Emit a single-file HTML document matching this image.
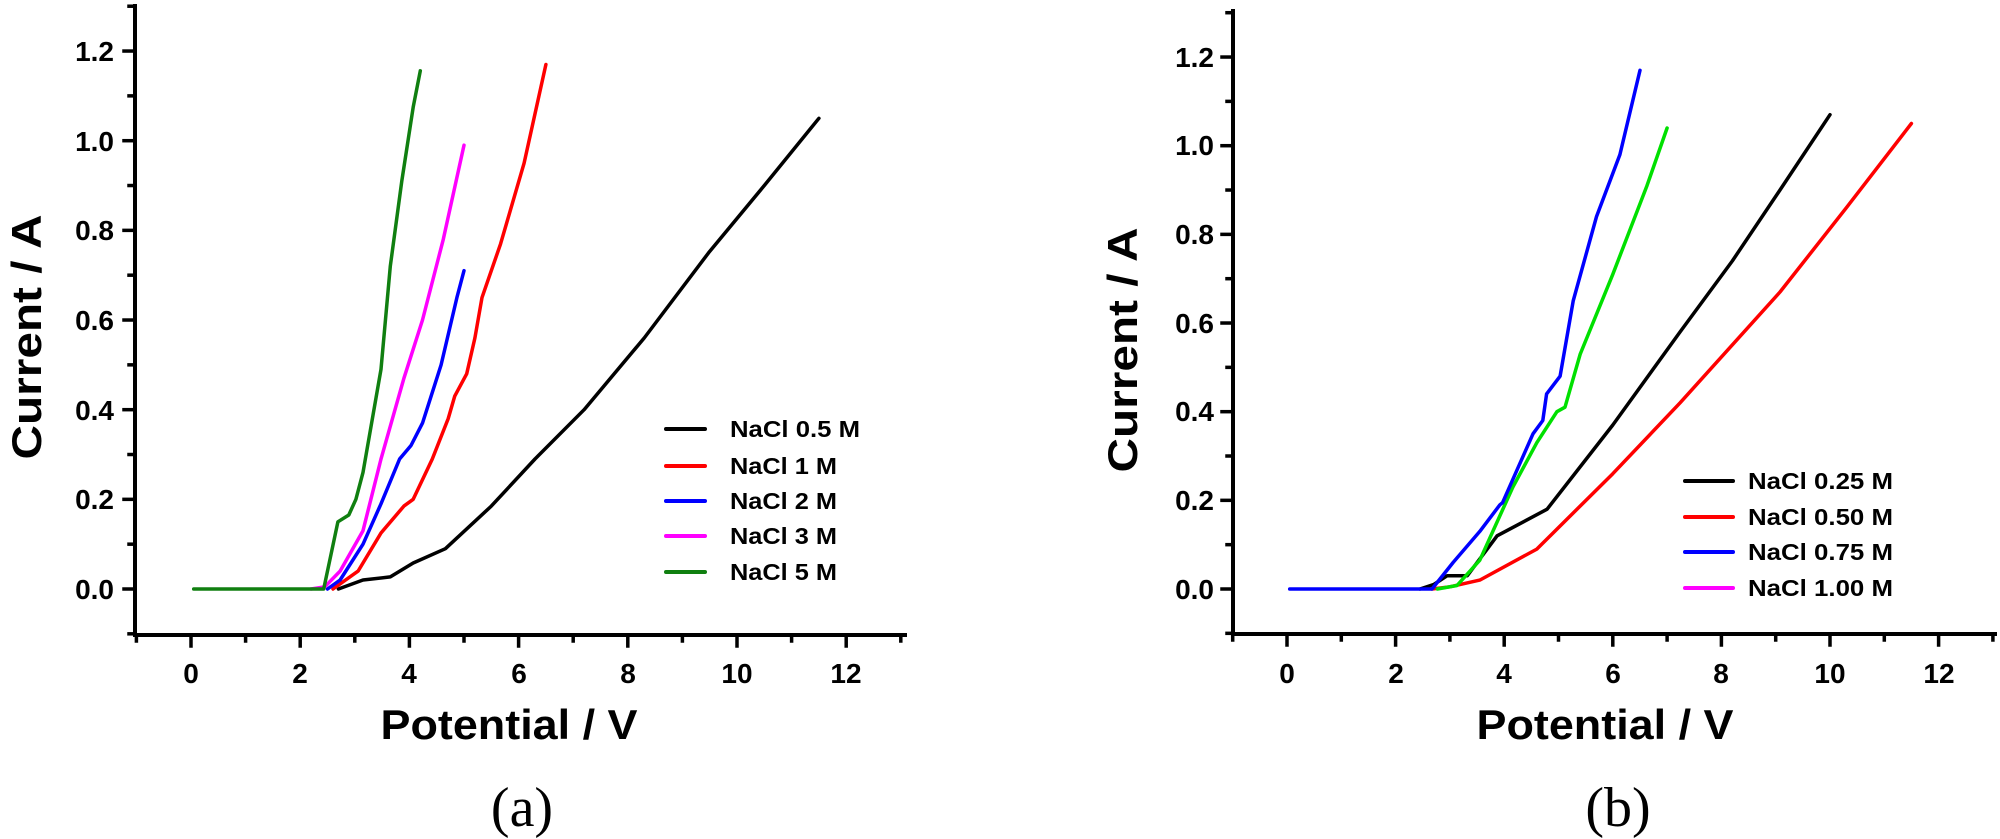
<!DOCTYPE html>
<html><head><meta charset="utf-8"><style>
html,body{margin:0;padding:0;background:#fff;}
svg{display:block;}
.tk{font-family:"Liberation Sans",Arial,sans-serif;font-weight:bold;font-size:28px;fill:#000;}
.lab{font-family:"Liberation Sans",Arial,sans-serif;font-weight:bold;font-size:42px;fill:#000;}
.lg{font-family:"Liberation Sans",Arial,sans-serif;font-weight:bold;font-size:23px;fill:#000;}
.cap{font-family:"Liberation Serif","Times New Roman",serif;font-size:56px;fill:#000;}
</style></head><body>
<svg id="s" width="2000" height="839" viewBox="0 0 2000 839" xmlns="http://www.w3.org/2000/svg">
<g id="axes" stroke="#000" stroke-width="4" fill="none" stroke-linecap="square"></g>
<g id="curves" fill="none" stroke-width="3.5" stroke-linejoin="round" stroke-linecap="round"></g>
<g class="tk" text-anchor="end">
<text x="114" y="61">1.2</text><text x="114" y="151">1.0</text><text x="114" y="240">0.8</text>
<text x="114" y="330">0.6</text><text x="114" y="420">0.4</text><text x="114" y="509">0.2</text><text x="114" y="599">0.0</text>
</g>
<g class="tk" text-anchor="middle">
<text x="191" y="683">0</text><text x="300" y="683">2</text><text x="409" y="683">4</text><text x="519" y="683">6</text>
<text x="628" y="683">8</text><text x="737" y="683">10</text><text x="846" y="683">12</text>
</g>
<text class="lab" x="509" y="739" text-anchor="middle" textLength="257" lengthAdjust="spacingAndGlyphs">Potential / V</text>
<text class="lab" transform="translate(41,337) rotate(-90)" text-anchor="middle" textLength="245" lengthAdjust="spacingAndGlyphs">Current / A</text>
<text class="cap" x="522" y="826" text-anchor="middle">(a)</text>
<g class="lg">
<text x="730" y="437" textLength="130" lengthAdjust="spacingAndGlyphs">NaCl 0.5 M</text>
<text x="730" y="474" textLength="107" lengthAdjust="spacingAndGlyphs">NaCl 1 M</text>
<text x="730" y="509" textLength="107" lengthAdjust="spacingAndGlyphs">NaCl 2 M</text>
<text x="730" y="544" textLength="107" lengthAdjust="spacingAndGlyphs">NaCl 3 M</text>
<text x="730" y="580" textLength="107" lengthAdjust="spacingAndGlyphs">NaCl 5 M</text>
</g>
<g class="tk" text-anchor="end">
<text x="1214" y="67">1.2</text><text x="1214" y="155">1.0</text><text x="1214" y="244">0.8</text>
<text x="1214" y="333">0.6</text><text x="1214" y="421">0.4</text><text x="1214" y="510">0.2</text><text x="1214" y="599">0.0</text>
</g>
<g class="tk" text-anchor="middle">
<text x="1287" y="683">0</text><text x="1396" y="683">2</text><text x="1504" y="683">4</text><text x="1613" y="683">6</text>
<text x="1721" y="683">8</text><text x="1830" y="683">10</text><text x="1939" y="683">12</text>
</g>
<text class="lab" x="1605" y="739" text-anchor="middle" textLength="257" lengthAdjust="spacingAndGlyphs">Potential / V</text>
<text class="lab" transform="translate(1137,350) rotate(-90)" text-anchor="middle" textLength="245" lengthAdjust="spacingAndGlyphs">Current / A</text>
<text class="cap" x="1618" y="826" text-anchor="middle">(b)</text>
<g class="lg">
<text x="1748" y="489" textLength="145" lengthAdjust="spacingAndGlyphs">NaCl 0.25 M</text>
<text x="1748" y="525" textLength="145" lengthAdjust="spacingAndGlyphs">NaCl 0.50 M</text>
<text x="1748" y="560" textLength="145" lengthAdjust="spacingAndGlyphs">NaCl 0.75 M</text>
<text x="1748" y="596" textLength="145" lengthAdjust="spacingAndGlyphs">NaCl 1.00 M</text>
</g>
</svg>
<script>
(function(){
var NS="http://www.w3.org/2000/svg";
var ax=document.getElementById("axes"), cv=document.getElementById("curves");
function el(p,tag,at){var e=document.createElementNS(NS,tag);for(var k in at)e.setAttribute(k,at[k]);p.appendChild(e);return e;}
function panel(x0,ux,y0,uy,axL,axR,axT,axB){
  var X=function(v){return x0+ux*v}, Y=function(v){return y0-uy*v};
  el(ax,"path",{d:"M"+axL+" "+axT+" L"+axL+" "+axB+" L"+axR+" "+axB});
  for(var i=-1;i<=13;i++){var y=Y(i/10);var len=(i%2==0)?11:6;el(ax,"line",{x1:axL-len,y1:y,x2:axL,y2:y,"stroke-width":3.5});}
  for(var j=-1;j<=13;j++){var x=X(j);var len=(j%2==0)?11:6;el(ax,"line",{x1:x,y1:axB,x2:x,y2:axB+len,"stroke-width":3.5});}
  return function(col,pts,w){var d="";for(var k=0;k<pts.length;k++){d+=(k?"L":"M")+X(pts[k][0]).toFixed(1)+" "+Y(pts[k][1]).toFixed(1)+" ";}
    var p=el(cv,"path",{d:d,stroke:col});if(w)p.setAttribute("stroke-width",w);};
}
var A=panel(191,54.6,589,448.3,135,905,6,635);
A("#000",[[2.7,0],[3.15,0.02],[3.65,0.027],[4.07,0.058],[4.66,0.09],[5.5,0.185],[6.3,0.29],[7.2,0.4],[8.3,0.56],[9.48,0.75],[10.5,0.9],[11.5,1.05]]);
A("#ff0000",[[2.6,0],[3.06,0.04],[3.48,0.125],[3.9,0.185],[4.07,0.2],[4.42,0.29],[4.71,0.38],[4.83,0.43],[5.05,0.48],[5.2,0.56],[5.33,0.65],[5.67,0.77],[6.1,0.95],[6.5,1.17]]);
A("#0000ff",[[2.5,0],[2.73,0.02],[3.15,0.1],[3.48,0.19],[3.82,0.29],[4.03,0.32],[4.24,0.37],[4.58,0.5],[4.87,0.65],[5.0,0.71]]);
A("#ff00ff",[[2.2,0],[2.45,0.005],[2.73,0.04],[3.15,0.13],[3.48,0.29],[3.9,0.47],[4.24,0.6],[4.62,0.78],[5.0,0.99]]);
A("#107f10",[[0.05,0],[2.43,0],[2.69,0.15],[2.89,0.165],[3.02,0.2],[3.15,0.26],[3.48,0.49],[3.65,0.72],[3.86,0.91],[4.07,1.075],[4.2,1.156]]);
var B=panel(1287,54.3,589,443.3,1233,1995,11,634);
B("#000",[[2.45,0],[2.7,0.01],[2.95,0.03],[3.32,0.03],[3.87,0.12],[4.79,0.18],[6.0,0.37],[7.24,0.58],[8.2,0.74],[9.08,0.9],[10.0,1.07]]);
B("#ff0000",[[2.67,0],[3.0,0.005],[3.55,0.02],[4.6,0.09],[6.0,0.26],[7.24,0.42],[9.08,0.67],[10.3,0.86],[11.5,1.05]]);
B("#00e000",[[2.77,0],[3.13,0.008],[3.55,0.065],[4.16,0.23],[4.6,0.33],[4.97,0.4],[5.12,0.41],[5.4,0.53],[6.0,0.71],[6.63,0.91],[7.0,1.04]]);
B("#0000ff",[[0.05,0],[2.67,0],[3.06,0.06],[3.55,0.13],[3.92,0.19],[3.97,0.195],[4.53,0.35],[4.71,0.38],[4.78,0.44],[5.03,0.48],[5.27,0.65],[5.7,0.84],[6.13,0.98],[6.5,1.17]]);
var la=[["#000",429],["#ff0000",466],["#0000ff",501],["#ff00ff",536],["#107f10",572]];
la.forEach(function(r){el(cv,"line",{x1:666,y1:r[1],x2:705,y2:r[1],stroke:r[0],"stroke-width":4});});
var lb=[["#000",481],["#ff0000",517],["#0000ff",552],["#ff00ff",588]];
lb.forEach(function(r){el(cv,"line",{x1:1685,y1:r[1],x2:1733,y2:r[1],stroke:r[0],"stroke-width":4});});
})();
</script>
</body></html>
